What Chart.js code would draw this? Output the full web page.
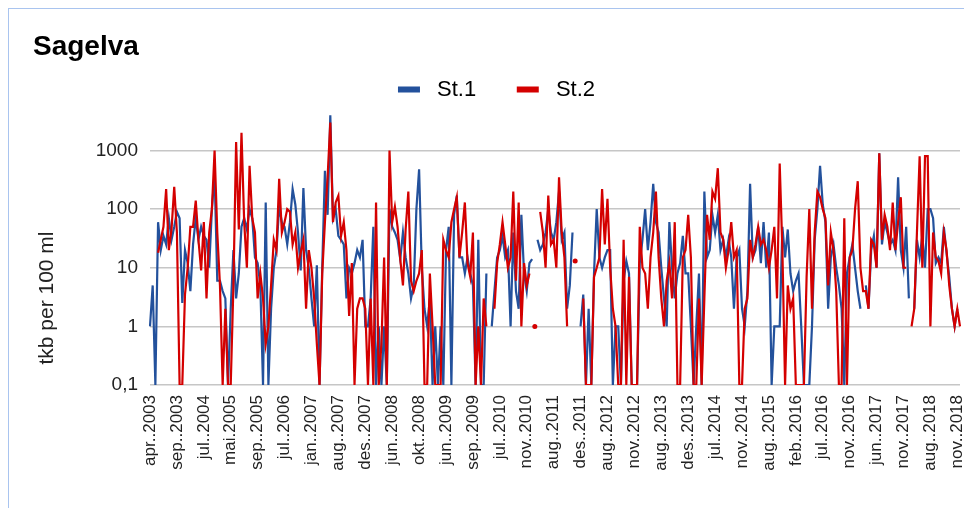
<!DOCTYPE html>
<html>
<head>
<meta charset="utf-8">
<script src="https://cdn.jsdelivr.net/npm/chart.js@4.4.0/dist/chart.umd.min.js"></script>
<style>
  html, body { margin: 0; padding: 0; background: #fff; }
  #wrap { position: relative; width: 964px; height: 508px; overflow: hidden; }
  #frame { position: absolute; left: 8px; top: 8px; width: 1000px; height: 600px; border: 1px solid #a9c4ef; }
  #chart { position: absolute; left: 0; top: 0; }
</style>
</head>
<body>
<div id="wrap">
  <div id="frame"></div>
  <canvas id="chart" width="964" height="508"></canvas>
</div>
<script>
  // tick labels, one for every 10th sample
  const tickLabels = ["apr..2003", "sep..2003", "jul..2004", "mai.2005", "sep..2005", "jul..2006",
    "jan..2007", "aug..2007", "des..2007", "jun..2008", "okt..2008", "jun..2009", "sep..2009",
    "jul..2010", "nov..2010", "aug..2011", "des..2011", "aug..2012", "nov..2012", "aug..2013",
    "des..2013", "jul..2014", "nov..2014", "aug..2015", "feb..2016", "jul..2016", "nov..2016",
    "jun..2017", "nov..2017", "aug..2018", "nov..2018"];

  const yTicks = [0.1, 1, 10, 100, 1000];

  // St.1, tkb per 100 ml (0.1 = below detection)
  const st1 = [
    1, 5, 0.1, 60, 20, 35, 25, 70, 30, 50,
    90, 70, 2.5, 20, 12, 4, 25, 70, 30, 50,
    35, 30, 10, 100, 400, 6, 6, 4, 3, 0.1,
    2, 20, 3, 8, 50, 70, 45, 100, 70, 15,
    12, 5, 0.1, 130, 0.1, 2, 10, 20, 110, 60,
    50, 25, 60, 220, 120, 40, 9, 230, 20, 10,
    3, 1, 11, 0.1, 10, 450, 80, 4000, 70, 100,
    35, 30, 25, 3, 10, 8, 12, 20, 15, 30,
    1, 1, 3, 50, 0.1, 1, 0.1, 1, 0.1, 100,
    50, 40, 30, 14, 40, 15, 8, 3, 5, 100,
    480, 10, 2, 1, 3, 0.1, 1, 0.1, 1, 0.1,
    20, 50, 0.1, 80, 170, 15, 15, 8, 15, 8,
    5, 0.1, 30, 0.1, 0.1, 8, null, 1, 4, 15,
    20, 35, 15, 20, 1, 40, 4, 2, 80, 8,
    4, 12, 14, null, 30, 20, 25, 40, 100, 40,
    30, 60, 200, 30, 40, 2, 5, 40, null, null,
    1, 3.5, 0.1, 2, 0.1, 8, 100, 15, 10, 15,
    20, 20, 0.1, 1, 1, 0.1, 6, 13, 8, 0.1,
    0.1, 0.1, 12, 30, 100, 20, 60, 270, 60, 40,
    10, 3, 1, 60, 10, 3, 8, 12, 35, 8,
    8, 1, 0.1, 1, 8, 0.1, 200, 15, 20, 80,
    40, 80, 20, 30, 15, 30, 15, 2, 15, 20,
    2, 1, 4, 270, 15, 20, 50, 12, 60, 10,
    40, 0.1, 1, 1, 1, 50, 15, 45, 8, 4,
    6, 8, 1, 0.1, 0.1, 0.1, 1, 30, 100, 550,
    120, 60, 2, 15, 25, 10, 5, 2, 0.1, 8,
    15, 25, 10, 4, 2, null, 5, 2, 20, 35,
    10, 900, 25, 60, 40, 25, 30, 20, 350, 20,
    10, 50, 3, null, 2, 30, 15, 35, 10, 100,
    100, 70, 12, 15, 12, 50, 18, 7, 2, 1,
    2, null
  ];

  // St.2
  const st2 = [
    null, null, null, 18, 30, 50, 220, 20, 45, 240,
    40, 0.1, 0.1, 3.5, 10, 50, 50, 140, 30, 9,
    60, 3, 40, 100, 1000, 40, 5, 0.1, 2, 0.1,
    0.1, 5, 1400, 45, 2000, 60, 10, 550, 70, 40,
    3, 8, 3, 0.5, 1, 5, 30, 20, 330, 40,
    60, 100, 90, 25, 40, 10, 18, 30, 2, 20,
    10, 3, 0.5, 0.1, 8, 60, 350, 3000, 60, 130,
    170, 35, 60, 20, 1.5, 12, 0.1, 2, 3, 3,
    2, 0.1, 3, 0.1, 130, 0.1, 0.5, 15, 0.1, 1000,
    60, 110, 50, 14, 5, 45, 200, 6, 4, 6,
    8, 20, 0.1, 0.1, 8, 1, 0.1, 0.1, 0.1, 30,
    20, 15, 60, 100, 160, 15, 40, 130, 12, 7,
    40, 0.1, 1, 0.1, 3, 1, null, null, 2, 12,
    25, 60, 25, 10, 15, 200, 6, 130, 1, 12,
    5, 8, null, 1, null, 90, 40, 10, 170, 25,
    30, 10, 350, 40, 15, 1, null, null, 13, null,
    null, 3, 0.1, 0.1, 0.1, 7, 10, 15, 220, 25,
    150, 10, 2, 1, 0.1, 0.1, 30, 0.1, 7, 0.1,
    0.1, 0.1, 50, 10, 8, 2, 15, 40, 200, 15,
    3, 1, 6, 12, 3, 60, 0.1, 0.1, 15, 20,
    80, 15, 0.1, 0.1, 3, 0.1, 3, 80, 30, 200,
    150, 500, 40, 30, 10, 20, 60, 15, 20, 0.1,
    0.1, 2, 3, 30, 15, 25, 50, 25, 30, 20,
    10, 20, 50, 3, 600, 20, 0.1, 5, 2, 3,
    0.1, 0.1, 0.1, 0.1, 7, 100, 2, 40, 200, 160,
    100, 70, 5, 40, 20, 4, 0.1, 0.1, 70, 0.1,
    15, 20, 100, 300, 10, 4, 4, 2, 30, 25,
    10, 900, 30, 80, 50, 20, 130, 20, 60, 160,
    10, 10, null, 1, 2, 40, 800, 10, 800, 800,
    1, 40, 15, 13, 8, 40, 20, 5, 2, 1,
    2, 1
  ];

  const samples = st1.map((_, i) => i);

  // a lone value between two gaps is shown as a dot
  function lonePoints(arr) {
    return arr.map((v, i) => (v !== null && arr[i - 1] == null && arr[i + 1] == null) ? 2.5 : 0);
  }

  Chart.defaults.font.family = '"Liberation Sans", Arial, sans-serif';
  Chart.defaults.color = '#222';

  const yTitle = {
    id: 'yTitle',
    afterDraw(chart) {
      const ctx = chart.ctx;
      ctx.save();
      ctx.translate(47, 298);
      ctx.rotate(-Math.PI / 2);
      ctx.font = '21px "Liberation Sans", Arial, sans-serif';
      ctx.fillStyle = '#222';
      ctx.textAlign = 'center';
      ctx.textBaseline = 'middle';
      ctx.fillText('tkb per 100 ml', 0, 0);
      ctx.restore();
    }
  };

  const ctx = document.getElementById("chart").getContext("2d");
  new Chart(ctx, {
    type: 'line',
    data: {
      labels: samples,
      datasets: [{
        label: 'St.1',
        data: st1,
        borderColor: '#23519c',
        backgroundColor: '#23519c',
        borderWidth: 2.2,
        pointRadius: lonePoints(st1),
        pointBorderWidth: 0,
        spanGaps: false,
        order: 1
      }, {
        label: 'St.2',
        data: st2,
        borderColor: '#d40000',
        backgroundColor: '#d40000',
        borderWidth: 2.2,
        pointRadius: lonePoints(st2),
        pointBorderWidth: 0,
        spanGaps: false,
        order: 0
      }]
    },
    options: {
      responsive: false,
      animation: false,
      devicePixelRatio: 1,
      layout: { padding: { left: 33, right: 4, top: 0, bottom: 0 } },
      plugins: {
        title: {
          display: true,
          text: 'Sagelva',
          align: 'start',
          color: '#000',
          font: { size: 28, weight: 'bold' },
          padding: { top: 30, bottom: 5 }
        },
        legend: {
          position: 'top',
          labels: {
            boxWidth: 22,
            boxHeight: 6,
            padding: 10,
            color: '#222',
            font: { size: 22 },
            sort: (a, b) => a.datasetIndex - b.datasetIndex,
            generateLabels: chart => chart.data.datasets.map((d, i) => ({
              text: i === 0 ? ' ' + d.label + '     ' : ' ' + d.label,
              fillStyle: d.borderColor,
              strokeStyle: d.borderColor,
              lineWidth: 0,
              datasetIndex: i
            }))
          }
        },
        tooltip: { enabled: false }
      },
      scales: {
        x: {
          offset: false,
          grid: { display: false },
          border: { display: false },
          afterFit: s => { s.height = 123; s.paddingRight = 0; },
          ticks: {
            autoSkip: false,
            maxRotation: 90,
            minRotation: 90,
            padding: 2,
            color: '#222',
            font: { size: 17 },
            callback: (v, i) => i % 10 === 0 ? tickLabels[i / 10] : ''
          }
        },
        y: {
          type: 'logarithmic',
          min: 0.1,
          max: 4800,
          afterBuildTicks: s => { s.ticks = yTicks.map(v => ({ value: v })); },
          afterFit: s => { s.width = 117; },
          grid: { color: '#c6c6c6', lineWidth: 1.6, drawTicks: false },
          border: { display: false },
          ticks: {
            padding: 12,
            color: '#222',
            font: { size: 19 },
            callback: v => String(v).replace('.', ',')
          }
        }
      }
    },
    plugins: [yTitle]
  });
</script>
</body>
</html>
